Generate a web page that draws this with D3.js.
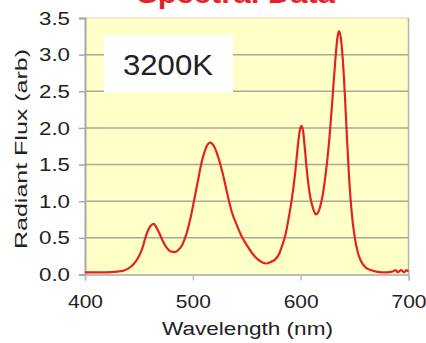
<!DOCTYPE html>
<html><head><meta charset="utf-8">
<script src="https://cdn.jsdelivr.net/npm/d3@7"></script>
<style>html,body{margin:0;padding:0;background:#fff;}svg{display:block;}</style>
</head><body>
<script>
const wavelength = [400,410,420,430,435,440,445,450,453,456,459,462,464,466,469,472,475,478,481,484,487,490,494,498,501,505,508,511,514,516,520,524,528,532,536,540,545,550,555,560,565,568,572,576,580,583,586,589,592,595,597,599,600.5,602,604,606,609,612,614,616,618,620,623,626,629,632,634,635.5,637,639,641,643,645,647,650,653,656,660,665,670,675,680,685,688,690,693,696,698,700];
const flux = [0.03,0.03,0.03,0.04,0.05,0.08,0.14,0.25,0.35,0.50,0.62,0.68,0.69,0.65,0.56,0.46,0.38,0.33,0.31,0.31,0.34,0.40,0.55,0.78,1.00,1.30,1.52,1.68,1.78,1.80,1.74,1.58,1.36,1.10,0.86,0.70,0.53,0.40,0.29,0.21,0.16,0.15,0.17,0.20,0.28,0.40,0.55,0.78,1.05,1.40,1.70,1.95,2.03,1.98,1.70,1.38,1.05,0.88,0.82,0.84,0.92,1.05,1.35,1.75,2.30,2.90,3.22,3.32,3.25,2.95,2.45,1.85,1.30,0.90,0.52,0.30,0.18,0.10,0.06,0.04,0.03,0.03,0.04,0.06,0.03,0.06,0.03,0.06,0.04];
const xTicks = [400,500,600,700];
const yTicks = [0,0.5,1.0,1.5,2.0,2.5,3.0,3.5];
const title = "Spectral Data";
const xLabel = "Wavelength (nm)";
const yLabel = "Radiant Flux (arb)";
const annotation = "3200K";

const W = 426, H = 343;
const svg = d3.select("body").append("svg").attr("width", W).attr("height", H);
const font = "Liberation Sans, Arial, sans-serif";

const x = d3.scaleLinear().domain([400,700]).range([85,408.5]);
const y = d3.scaleLinear().domain([0,3.5]).range([274.5,18]);

// plot background
svg.append("rect").attr("x", x(400)).attr("y", y(3.5))
  .attr("width", x(700)-x(400)).attr("height", y(0)-y(3.5))
  .attr("fill", "#ffffc8");

// gridlines
svg.append("g").selectAll("line").data(yTicks.filter(d=>d>0)).join("line")
  .attr("x1", x(400)).attr("x2", x(700))
  .attr("y1", d=>y(d)).attr("y2", d=>y(d))
  .attr("stroke", d=> d===3.5 ? "#e6e6c8" : "#a8a896").attr("stroke-width", 1.5);

// right border
svg.append("line").attr("x1", x(700)).attr("x2", x(700)).attr("y1", y(3.5)).attr("y2", y(0))
  .attr("stroke", "#b4b4a8").attr("stroke-width", 1.5);

// y axis
const yAxis = d3.axisLeft(y).tickValues(yTicks).tickFormat(d3.format(".1f")).tickSize(6).tickPadding(9);
const gy = svg.append("g").attr("transform", `translate(${x(400)},0)`).call(yAxis);
gy.select(".domain").attr("stroke", "#a8a8a8").attr("stroke-width", 2);
gy.selectAll(".tick line").attr("stroke", "#a8a8a8").attr("stroke-width", 1.5);
gy.selectAll(".tick text").attr("font-family", font).attr("font-size", 19).attr("fill", "#222")
  .attr("textLength", 31).attr("lengthAdjust", "spacingAndGlyphs");

// x axis
const xAxis = d3.axisBottom(x).tickValues(xTicks).tickFormat(d3.format("d")).tickSize(6).tickPadding(14);
const gx = svg.append("g").attr("transform", `translate(0,${y(0)})`).call(xAxis);
gx.select(".domain").attr("stroke", "#a8a8a8").attr("stroke-width", 1.5);
gx.selectAll(".tick line").attr("stroke", "#c0c0c0").attr("stroke-width", 1.5);
gx.selectAll(".tick text").attr("font-family", font).attr("font-size", 19).attr("fill", "#222")
  .attr("textLength", 35).attr("lengthAdjust", "spacingAndGlyphs");

// spectrum line
const pts = wavelength.map((w,i)=>[w, flux[i]]);
svg.append("path").datum(pts)
  .attr("d", d3.line().x(d=>x(d[0])).y(d=>y(d[1])).curve(d3.curveMonotoneX))
  .attr("fill", "none").attr("stroke", "#e32222").attr("stroke-width", 2.2)
  .attr("stroke-linejoin", "round");

// annotation box
svg.append("rect").attr("x", 104).attr("y", 35).attr("width", 129).attr("height", 57).attr("fill", "#fff");
svg.append("text").attr("x", 168).attr("y", 75).attr("text-anchor", "middle")
  .attr("font-family", font).attr("font-size", 30).attr("fill", "#222")
  .attr("textLength", 90).attr("lengthAdjust", "spacingAndGlyphs").text(annotation);

// title (cropped at the top edge, as in the reference)
svg.append("text").attr("x", 236).attr("y", 3).attr("text-anchor", "middle")
  .attr("font-family", font).attr("font-size", 28).attr("font-weight", "bold").attr("fill", "#e8202a")
  .attr("textLength", 198).attr("lengthAdjust", "spacingAndGlyphs").text(title);

// axis labels
svg.append("text").attr("x", 247.5).attr("y", 335).attr("text-anchor", "middle")
  .attr("font-family", font).attr("font-size", 18).attr("fill", "#222")
  .attr("textLength", 171).attr("lengthAdjust", "spacingAndGlyphs").text(xLabel);
svg.append("text").attr("transform", "translate(27,149) rotate(-90)").attr("text-anchor", "middle")
  .attr("font-family", font).attr("font-size", 17).attr("fill", "#222")
  .attr("textLength", 200).attr("lengthAdjust", "spacingAndGlyphs").text(yLabel);
</script>
</body></html>
